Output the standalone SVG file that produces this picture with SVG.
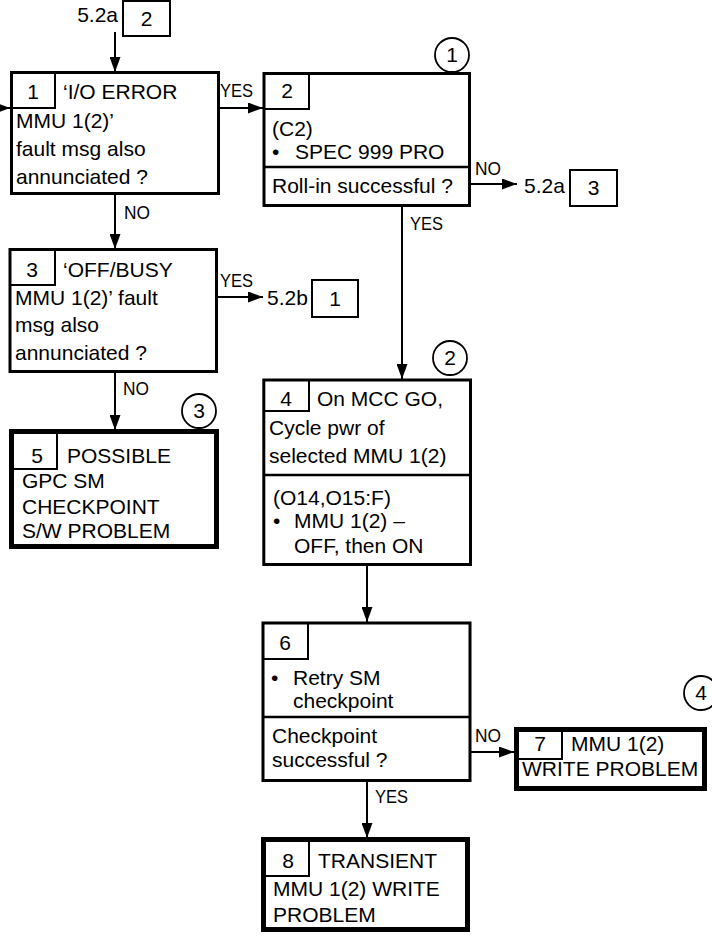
<svg xmlns="http://www.w3.org/2000/svg" width="712" height="936" viewBox="0 0 712 936">
<defs>
<marker id="ah" markerUnits="userSpaceOnUse" markerWidth="15" markerHeight="11" refX="15" refY="5.5" orient="auto"><path d="M0,0 L15,5.5 L0,11 Z" fill="#000"/></marker>
<style>
text{font-family:"Liberation Sans",Arial,sans-serif;font-size:21px;fill:#000}
.lbl{font-size:19px}
.num{text-anchor:middle}
.box{fill:#fff;stroke:#000;stroke-width:3}
.tbox{fill:#fff;stroke:#000;stroke-width:5}
.nb{fill:none;stroke:#000;stroke-width:2}
.div{stroke:#000;stroke-width:2.5}
.ref{fill:#fff;stroke:#000;stroke-width:2}
.cir{fill:#fff;stroke:#000;stroke-width:1.8}
.con{fill:none;stroke:#000;stroke-width:2;marker-end:url(#ah)}
</style>
</defs>
<rect width="712" height="936" fill="#fff"/>

<g id="connectors">
<line class="con" x1="115" y1="32" x2="115" y2="72"/>
<line class="con" x1="-10" y1="108" x2="10" y2="108"/>
<line class="con" x1="219" y1="108" x2="263" y2="108"/>
<line class="con" x1="471" y1="184" x2="517" y2="184"/>
<line class="con" x1="402" y1="206" x2="402" y2="379"/>
<line class="con" x1="115" y1="195" x2="115" y2="249"/>
<line class="con" x1="218" y1="297" x2="263" y2="297"/>
<line class="con" x1="115" y1="373" x2="115" y2="430"/>
<line class="con" x1="367" y1="566" x2="367" y2="622"/>
<line class="con" x1="471" y1="752" x2="514" y2="752"/>
<line class="con" x1="367" y1="781" x2="367" y2="838"/>
<text class="lbl" x="220" y="97" textLength="33" lengthAdjust="spacingAndGlyphs">YES</text>
<text class="lbl" x="475" y="175" textLength="26" lengthAdjust="spacingAndGlyphs">NO</text>
<text class="lbl" x="410" y="230" textLength="33" lengthAdjust="spacingAndGlyphs">YES</text>
<text class="lbl" x="124" y="219" textLength="26" lengthAdjust="spacingAndGlyphs">NO</text>
<text class="lbl" x="220" y="287" textLength="33" lengthAdjust="spacingAndGlyphs">YES</text>
<text class="lbl" x="123" y="395" textLength="26" lengthAdjust="spacingAndGlyphs">NO</text>
<text class="lbl" x="475" y="742" textLength="26" lengthAdjust="spacingAndGlyphs">NO</text>
<text class="lbl" x="375" y="803" textLength="33" lengthAdjust="spacingAndGlyphs">YES</text>
</g>

<g id="ref-top">
<text x="118" y="22" text-anchor="end">5.2a</text>
<rect class="ref" x="123" y="1" width="47" height="35"/>
<text class="num" x="146.5" y="26">2</text>
</g>

<g id="ref-right-2">
<text x="524" y="193">5.2a</text>
<rect class="ref" x="570" y="170" width="47" height="36"/>
<text class="num" x="593.5" y="195">3</text>
</g>

<g id="ref-right-3">
<text x="267" y="305">5.2b</text>
<rect class="ref" x="312" y="280" width="46" height="37"/>
<text class="num" x="335" y="306">1</text>
</g>

<g id="node1">
<rect class="box" x="11.5" y="72.5" width="207" height="121"/>
<path class="nb" d="M11.5,108 H55 V72.5"/>
<text class="num" x="33" y="99">1</text>
<text x="63" y="99">‘I/O ERROR</text>
<text x="16" y="128">MMU 1(2)’</text>
<text x="16" y="156">fault msg also</text>
<text x="16" y="184">annunciated ?</text>
</g>

<g id="node2">
<rect class="box" x="264" y="73.5" width="205.5" height="132"/>
<path class="nb" d="M264,109 H309 V73.5"/>
<line class="div" x1="264" y1="167" x2="469.5" y2="167"/>
<text class="num" x="287" y="98">2</text>
<text x="272" y="136">(C2)</text>
<text x="272" y="159">•</text>
<text x="295" y="159">SPEC 999 PRO</text>
<text x="272" y="193">Roll-in successful ?</text>
<circle class="cir" cx="452" cy="55" r="17"/>
<text class="num" x="452" y="62">1</text>
</g>

<g id="node3">
<rect class="box" x="10" y="249.5" width="206.5" height="122"/>
<path class="nb" d="M10,285 H55 V249.5"/>
<text class="num" x="32" y="277">3</text>
<text x="63" y="277">‘OFF/BUSY</text>
<text x="15" y="305">MMU 1(2)’ fault</text>
<text x="15" y="332">msg also</text>
<text x="15" y="360">annunciated ?</text>
</g>

<g id="node4">
<rect class="box" x="263.8" y="380" width="206.7" height="184.5"/>
<path class="nb" d="M263.8,411 H309 V380"/>
<line class="div" x1="263.8" y1="475" x2="470.5" y2="475"/>
<text class="num" x="286" y="406">4</text>
<text x="317" y="406">On MCC GO,</text>
<text x="269" y="435">Cycle pwr of</text>
<text x="269" y="463">selected MMU 1(2)</text>
<text x="273" y="505">(O14,O15:F)</text>
<text x="273" y="528">•</text>
<text x="294" y="528">MMU 1(2) –</text>
<text x="294" y="553">OFF, then ON</text>
<circle class="cir" cx="450" cy="358" r="17"/>
<text class="num" x="450" y="365">2</text>
</g>

<g id="node5">
<rect class="tbox" x="11.5" y="431.5" width="205" height="115"/>
<path class="nb" d="M14,469 H57 V434"/>
<text class="num" x="37" y="463">5</text>
<text x="67" y="463">POSSIBLE</text>
<text x="22" y="488">GPC SM</text>
<text x="22" y="514">CHECKPOINT</text>
<text x="22" y="538">S/W PROBLEM</text>
<circle class="cir" cx="199" cy="411" r="17"/>
<text class="num" x="199" y="418">3</text>
</g>

<g id="node6">
<rect class="box" x="263" y="623" width="207" height="157.5"/>
<path class="nb" d="M263,659 H308 V623"/>
<line class="div" x1="263" y1="717" x2="470" y2="717"/>
<text class="num" x="285" y="650">6</text>
<text x="271" y="685">•</text>
<text x="293" y="685">Retry SM</text>
<text x="293" y="708">checkpoint</text>
<text x="272" y="743">Checkpoint</text>
<text x="272" y="767">successful ?</text>
</g>

<g id="node7">
<rect class="tbox" x="516.5" y="729.5" width="188" height="59"/>
<path class="nb" d="M519,759 H562 V732"/>
<text class="num" x="540" y="751">7</text>
<text x="571" y="751">MMU 1(2)</text>
<text x="522" y="776">WRITE PROBLEM</text>
<circle class="cir" cx="701" cy="693" r="17"/>
<text class="num" x="701" y="700">4</text>
</g>

<g id="node8">
<rect class="tbox" x="263.5" y="839.5" width="204" height="90"/>
<path class="nb" d="M266,876 H309 V842"/>
<text class="num" x="288" y="868">8</text>
<text x="318" y="868">TRANSIENT</text>
<text x="273" y="896">MMU 1(2) WRITE</text>
<text x="273" y="922">PROBLEM</text>
</g>
</svg>
